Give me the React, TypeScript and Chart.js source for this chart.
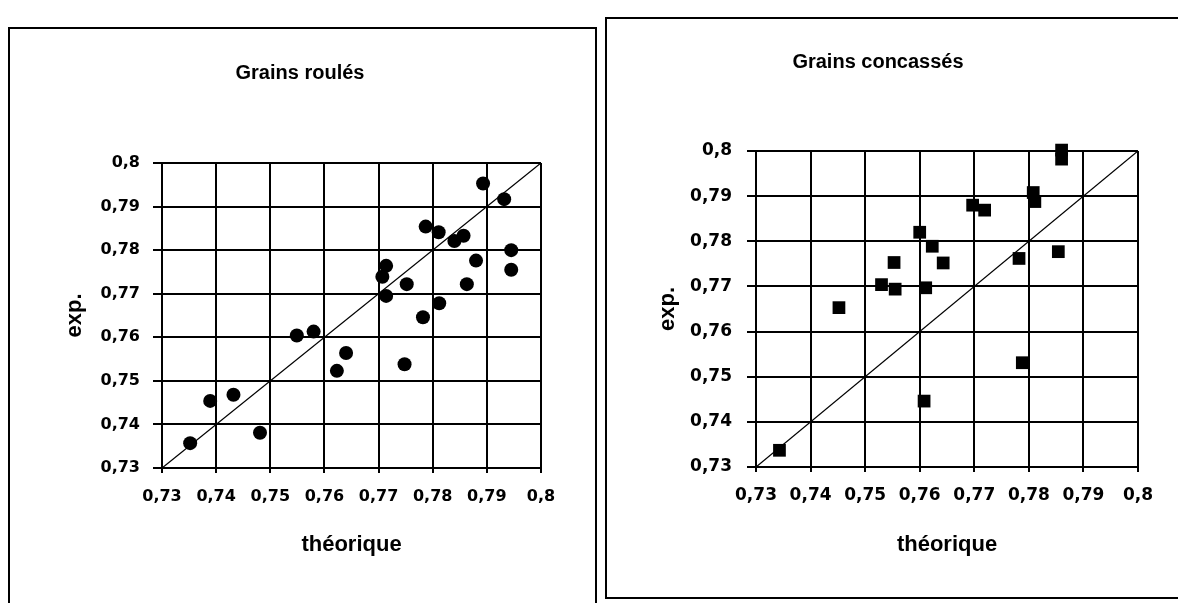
import React, { useEffect, useRef } from 'react';
import { Chart, registerables } from 'chart.js';

Chart.register(...registerables);

// ---- data ----
const tickValues = [0.73, 0.74, 0.75, 0.76, 0.77, 0.78, 0.79, 0.8];
const tickLabels = ['0,73', '0,74', '0,75', '0,76', '0,77', '0,78', '0,79', '0,8'];
const diagonal = [0.73, 0.8];

const roulesTitle = 'Grains roulés';
const roulesTheo = [0.7352, 0.7389, 0.7432, 0.7481, 0.7549, 0.758, 0.7623, 0.764, 0.7707, 0.7714, 0.7714, 0.7748, 0.7752, 0.7782, 0.7787, 0.7811, 0.7812, 0.784, 0.7857, 0.7863, 0.788, 0.7893, 0.7932, 0.7945, 0.7945];
const roulesExp = [0.7357, 0.7454, 0.7468, 0.7381, 0.7604, 0.7613, 0.7523, 0.7564, 0.7739, 0.7764, 0.7695, 0.7538, 0.7722, 0.7646, 0.7854, 0.7841, 0.7678, 0.7821, 0.7833, 0.7722, 0.7776, 0.7953, 0.7917, 0.78, 0.7755];

const concassesTitle = 'Grains concassés';
const concassesTheo = [0.7343, 0.7452, 0.753, 0.7553, 0.7555, 0.76, 0.7608, 0.7611, 0.7623, 0.7643, 0.7697, 0.7719, 0.7782, 0.7788, 0.7808, 0.7811, 0.7854, 0.786, 0.786];
const concassesExp = [0.7337, 0.7653, 0.7704, 0.7753, 0.7694, 0.782, 0.7446, 0.7697, 0.7789, 0.7752, 0.788, 0.7869, 0.7762, 0.7531, 0.7908, 0.7888, 0.7777, 0.8002, 0.7982];

const xTitle = 'théorique';
const yTitle = 'exp.';

const SANS = '"Liberation Sans", Arial, sans-serif';
const TICKFONT = '"DejaVu Sans", sans-serif';

type Layout = {
  width: number;
  height: number;
  padLeft: number;
  padRight: number;
  yAxisWidth: number;
  xAxisHeight: number;
  titleTop: number;
  titleBottom: number;
  yTitlePad: number;
  xTitlePad: number;
  yTickPad: number;
  xTickPad: number;
  tickSize: number;
};

function makeConfig(
  title: string,
  xs: number[],
  ys: number[],
  pointStyle: string,
  radius: number,
  L: Layout
): any {
  const font = { family: TICKFONT, size: L.tickSize, weight: 'bold' as const };
  const titleFont = { family: SANS, size: 22, weight: 'bold' as const };
  return {
    type: 'scatter',
    data: {
      datasets: [
        {
          data: xs.map((x, i) => ({ x, y: ys[i] })),
          pointStyle,
          pointRadius: radius,
          pointHoverRadius: radius,
          backgroundColor: '#000',
          borderColor: '#000',
          borderWidth: 0,
          showLine: false,
          clip: false,
        },
        {
          data: diagonal.map((v) => ({ x: v, y: v })),
          showLine: true,
          pointRadius: 0,
          borderColor: '#000',
          borderWidth: 1.3,
          fill: false,
        },
      ],
    },
    options: {
      animation: false,
      responsive: false,
      devicePixelRatio: 1,
      events: [],
      layout: {
        autoPadding: false,
        padding: { left: L.padLeft, right: L.padRight, top: 0, bottom: 0 },
      },
      plugins: {
        legend: { display: false },
        tooltip: { enabled: false },
        title: {
          display: true,
          text: title,
          color: '#000',
          font: { family: SANS, size: 20, weight: 'bold' },
          padding: { top: L.titleTop, bottom: L.titleBottom },
        },
      },
      scales: {
        x: {
          type: 'linear',
          min: 0.73,
          max: 0.8,
          afterBuildTicks: (s: any) => {
            s.ticks = tickValues.map((v) => ({ value: v }));
          },
          afterFit: (s: any) => {
            s.height = L.xAxisHeight;
          },
          ticks: {
            autoSkip: false,
            maxRotation: 0,
            color: '#000',
            font,
            padding: L.xTickPad,
            callback: (_v: any, i: number) => tickLabels[i],
          },
          grid: { color: '#000', lineWidth: 2, tickLength: 5 },
          border: { color: '#000', width: 2 },
          title: {
            display: true,
            text: xTitle,
            color: '#000',
            font: titleFont,
            padding: { top: 0, bottom: L.xTitlePad },
          },
        },
        y: {
          type: 'linear',
          min: 0.73,
          max: 0.8,
          afterBuildTicks: (s: any) => {
            s.ticks = tickValues.map((v) => ({ value: v }));
          },
          afterFit: (s: any) => {
            s.width = L.yAxisWidth;
          },
          ticks: {
            autoSkip: false,
            color: '#000',
            font,
            padding: L.yTickPad,
            callback: (_v: any, i: number) => tickLabels[i],
          },
          grid: { color: '#000', lineWidth: 2, tickLength: 9 },
          border: { color: '#000', width: 2 },
          title: {
            display: true,
            text: yTitle,
            color: '#000',
            font: titleFont,
            padding: { top: L.yTitlePad, bottom: 0 },
          },
        },
      },
    },
  };
}

const leftLayout: Layout = {
  width: 571,
  height: 573,
  padLeft: 49,
  padRight: 40,
  yAxisWidth: 103,
  xAxisHeight: 135,
  titleTop: 31,
  titleBottom: 78,
  yTitlePad: 3,
  xTitlePad: 45,
  yTickPad: 13,
  xTickPad: 14,
  tickSize: 16,
};

const rightLayout: Layout = {
  width: 562,
  height: 577,
  padLeft: 12,
  padRight: 30,
  yAxisWidth: 138,
  xAxisHeight: 129,
  titleTop: 31,
  titleBottom: 77,
  yTitlePad: 37,
  xTitlePad: 38,
  yTickPad: 15,
  xTickPad: 13,
  tickSize: 17,
};

function Panel(props: {
  title: string;
  xs: number[];
  ys: number[];
  pointStyle: string;
  radius: number;
  L: Layout;
  left: number;
  top: number;
}) {
  const ref = useRef<HTMLCanvasElement>(null);
  useEffect(() => {
    if (!ref.current) return;
    const chart = new Chart(
      ref.current,
      makeConfig(props.title, props.xs, props.ys, props.pointStyle, props.radius, props.L)
    );
    return () => chart.destroy();
  }, []);
  return (
    <canvas
      ref={ref}
      width={props.L.width}
      height={props.L.height}
      style={{
        position: 'absolute',
        left: props.left,
        top: props.top,
        width: props.L.width,
        height: props.L.height,
      }}
    />
  );
}

export default function App() {
  return (
    <div
      style={{
        position: 'fixed',
        left: 0,
        top: 0,
        width: 1178,
        height: 603,
        overflow: 'hidden',
        background: '#fff',
      }}
    >
      <div
        style={{
          position: 'absolute',
          left: 8,
          top: 27,
          width: 589,
          height: 640,
          border: '2px solid #000',
          boxSizing: 'border-box',
        }}
      />
      <div
        style={{
          position: 'absolute',
          left: 605,
          top: 17,
          width: 600,
          height: 582,
          border: '2px solid #000',
          boxSizing: 'border-box',
        }}
      />
      <Panel title={roulesTitle} xs={roulesTheo} ys={roulesExp} pointStyle="circle" radius={7} L={leftLayout} left={10} top={30} />
      <Panel title={concassesTitle} xs={concassesTheo} ys={concassesExp} pointStyle="rect" radius={9} L={rightLayout} left={606} top={19} />
    </div>
  );
}
